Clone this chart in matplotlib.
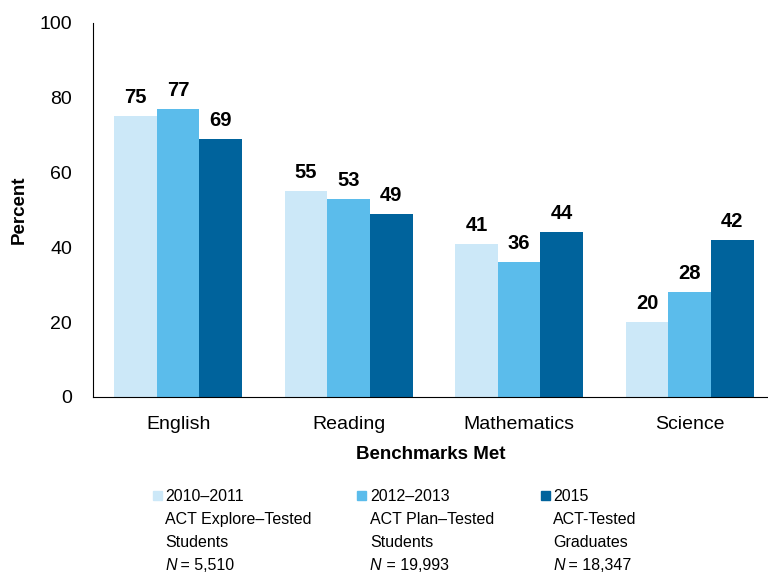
import matplotlib
matplotlib.use("Agg")
import matplotlib.pyplot as plt
from matplotlib.patches import Rectangle
import numpy as np

plt.rcParams['font.family'] = ['Liberation Sans', 'DejaVu Sans']

categories = ["English", "Reading", "Mathematics", "Science"]
series_years = ["2010\u20132011", "2012\u20132013", "2015"]
series_desc = [["ACT Explore\u2013Tested", "Students"],
               ["ACT Plan\u2013Tested", "Students"],
               ["ACT-Tested", "Graduates"]]
series_n = ["5,510", "19,993", "18,347"]
values = [
    [75, 55, 41, 20],
    [77, 53, 36, 28],
    [69, 49, 44, 42],
]
colors = ["#CCE8F8", "#5BBCEB", "#00639C"]
yticks = [0, 20, 40, 60, 80, 100]

fig = plt.figure(figsize=(7.68, 5.74), dpi=100)
ax = fig.add_axes([0.121, 0.3084, 0.879, 0.6516])

x = np.arange(len(categories))
width = 0.25
for i, vals in enumerate(values):
    pos = x + (i - 1) * width
    ax.bar(pos, vals, width, color=colors[i])
    for p, v in zip(pos, vals):
        ax.annotate(str(v), (p, v), xytext=(0, 6.5), textcoords="offset points",
                    ha="center", va="bottom", fontsize=14.5, fontweight="bold")

ax.set_xlim(-0.5, 3.46)
ax.set_ylim(0, 100)
ax.set_yticks(yticks)
ax.set_xticks(x)
ax.set_xticklabels(categories)
ax.tick_params(axis="both", length=0, labelsize=14)
ax.tick_params(axis="y", pad=15)
ax.tick_params(axis="x", pad=14)
for s in ["top", "right"]:
    ax.spines[s].set_visible(False)
ax.set_ylabel("Percent", fontsize=13.5, fontweight="bold")
ax.yaxis.set_label_coords(-0.096, 0.5)
ax.set_xlabel("Benchmarks Met", fontsize=13.5, fontweight="bold", labelpad=9)

# legend, drawn by hand
W, H = 768, 574
box_x = [152.7, 356.7, 541]
text_x = [165, 370, 553]
baselines = [501, 524, 547, 570]
for i in range(3):
    fig.patches.append(Rectangle((box_x[i] / W, 1 - 500 / H), 9.3 / W, 9.3 / H,
                                 transform=fig.transFigure, color=colors[i]))
    lines = [series_years[i]] + series_desc[i]
    for j, line in enumerate(lines):
        fig.text(text_x[i] / W, 1 - baselines[j] / H, line, fontsize=11.5,
                 va="baseline", ha="left")
    t = fig.text(text_x[i] / W, 1 - baselines[3] / H, "N", fontsize=11.5,
                 style="italic", va="baseline", ha="left")
    fig.canvas.draw()
    bb = t.get_window_extent()
    fig.text(bb.x1 / W, 1 - baselines[3] / H, " = " + series_n[i], fontsize=11.5,
             va="baseline", ha="left")

fig.savefig("out.png", dpi=100)
